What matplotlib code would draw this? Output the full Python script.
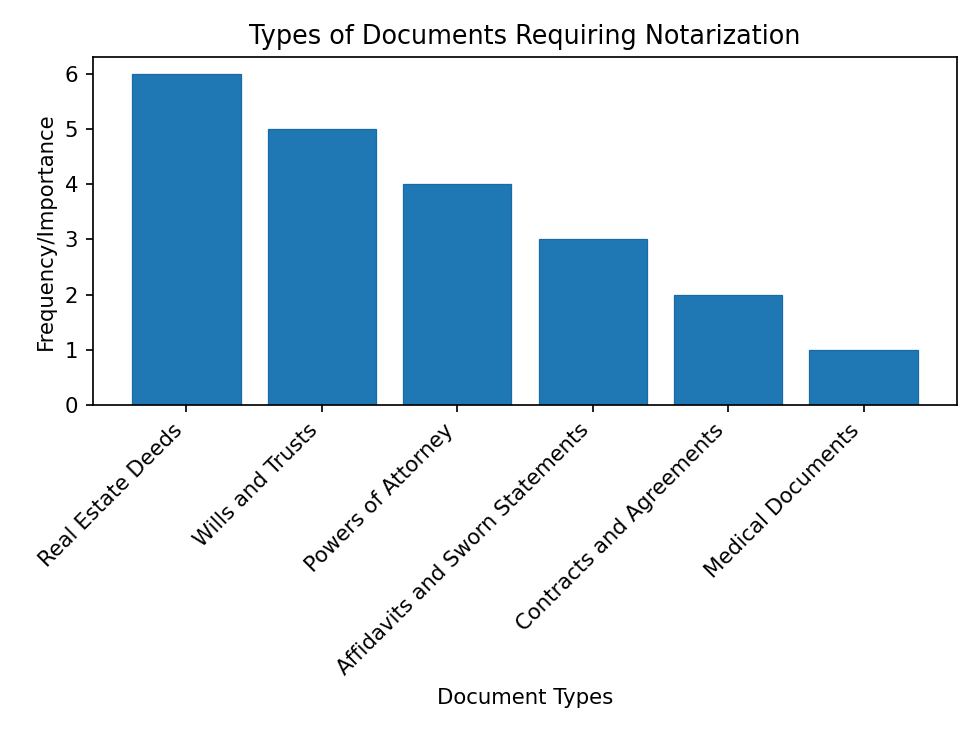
import matplotlib
matplotlib.use("Agg")
import matplotlib.pyplot as plt

categories = ["Real Estate Deeds", "Wills and Trusts", "Powers of Attorney",
              "Affidavits and Sworn Statements", "Contracts and Agreements", "Medical Documents"]
values = [6, 5, 4, 3, 2, 1]

DPI = 980 / 6.4
fig, ax = plt.subplots(figsize=(6.4, 4.8), dpi=DPI)
ax.bar(categories, values, color="#1f77b4", edgecolor="#1a6aa5", linewidth=0.6)
ax.set_title("Types of Documents Requiring Notarization")
ax.set_xlabel("Document Types")
ax.set_ylabel("Frequency/Importance")
plt.setp(ax.get_xticklabels(), rotation=45, ha="right")
fig.subplots_adjust(left=93/980, right=957/980, top=1-57/735, bottom=1-405/735)
fig.savefig("out.png", dpi=DPI)
